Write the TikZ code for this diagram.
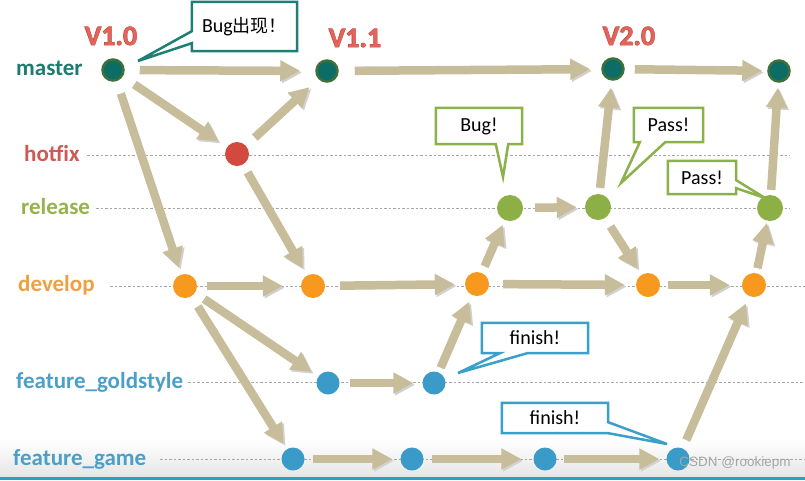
\documentclass[tikz,border=0pt]{standalone}
\usepackage{fontspec}
\setmainfont{Carlito}
\newfontfamily\cjk{Noto Sans CJK SC}
\newfontfamily\wmfont{Liberation Sans}
\newfontfamily\verout[FakeBold=2.5]{Carlito Bold}
\usetikzlibrary{arrows.meta}
\definecolor{arrowtan}{RGB}{199,189,154}
\definecolor{cmaster}{RGB}{12,108,102}
\definecolor{cring}{RGB}{62,112,60}
\definecolor{chot}{RGB}{211,72,63}
\definecolor{crel}{RGB}{141,176,70}
\definecolor{cdev}{RGB}{247,153,30}
\definecolor{cfeat}{RGB}{58,155,201}
\definecolor{lmaster}{RGB}{27,125,114}
\definecolor{lhot}{RGB}{205,90,85}
\definecolor{lrel}{RGB}{150,178,75}
\definecolor{ldev}{RGB}{240,160,64}
\definecolor{lfeat}{RGB}{74,160,200}
\definecolor{cver}{RGB}{226,100,90}
\definecolor{cverout}{RGB}{200,72,64}
\definecolor{cbteal}{RGB}{30,128,117}
\definecolor{cbgreen}{RGB}{140,176,74}
\definecolor{cbblue}{RGB}{58,159,201}
\definecolor{cbar}{RGB}{42,160,208}
\tikzset{
  commit/.style={circle, inner sep=0pt, minimum size=#1},
  mnode/.style={commit=21pt, fill=cmaster, draw=cring, line width=2.5pt},
  hnode/.style={commit=24pt, fill=chot},
  rnode/.style={commit=26pt, fill=crel},
  dnode/.style={commit=24pt, fill=cdev},
  fnode/.style={commit=23pt, fill=cfeat},
  flow/.style={draw=arrowtan, line width=8.5pt, -{Triangle[length=20pt,width=20pt]},
    preaction={draw=black!18, transform canvas={shift={(1.8pt,-1.8pt)}}}},
  lab/.style={anchor=base west, inner sep=0pt, font=\fontsize{23}{25}\selectfont\bfseries},
  verbg/.style={anchor=base west, inner sep=0pt, text=cverout, font=\verout\fontsize{28}{30}\selectfont},
  ver/.style={anchor=base west, inner sep=0pt, text=cver, font=\fontsize{28}{30}\selectfont\bfseries},
  guide/.style={draw=black!35, dash pattern=on 2.5pt off 2pt, line width=0.6pt},
  ctext/.style={inner sep=0pt, font=\fontsize{20}{22}\selectfont},
  cbox/.style={draw=#1, fill=white, line width=2.5pt, line join=miter},
}
\begin{document}
\begin{tikzpicture}[x=1pt,y=-1pt]
\useasboundingbox (0,0) rectangle (805,480);
\fill[white] (0,0) rectangle (805,480);
\shade[top color=white, bottom color=black!10] (0,440) rectangle (805,477);
\fill[cbar] (0,477) rectangle (805,480);

% branch labels
\node[lab, text=lmaster] (Lmaster) at (16,75.5) {master};
\node[lab, text=lhot]    (Lhot)    at (24,161) {hotfix};
\node[lab, text=lrel]    (Lrel)    at (21,214) {release};
\node[lab, text=ldev]    (Ldev)    at (18,291.5) {develop};
\node[lab, text=lfeat]   (Lgold)   at (16,388) {feature\_goldstyle};
\node[lab, text=lfeat]   (Lgame)   at (13,465) {feature\_game};

% guide lines
\coordinate (Ehot)  at (790,155);
\coordinate (Erel)  at (790,208);
\coordinate (Edev)  at (805,286);
\coordinate (Egold) at (805,382);
\coordinate (Egame) at (805,459);
\draw[guide] (87,155) -- (Ehot);
\draw[guide] (96,208) -- (Erel);
\draw[guide] (110,286) -- (Edev);
\draw[guide] (188,382) -- (Egold);
\draw[guide] (160,459) -- (Egame);

% versions
\node[verbg] at (84.5,45) {V1.0};
\node[ver] (V10) at (85,45) {V1.0};
\node[verbg] at (328.5,47) {V1.1};
\node[ver] (V11) at (329,47) {V1.1};
\node[verbg] at (602.5,45) {V2.0};
\node[ver] (V20) at (603,45) {V2.0};

% commits
\node[mnode] (M1) at (113,70) {};
\node[mnode] (M2) at (327,71) {};
\node[mnode] (M3) at (613,69) {};
\node[mnode] (M4) at (779,71) {};
\node[hnode] (H)  at (237,154) {};
\node[rnode] (R1) at (510,208) {};
\node[rnode] (R2) at (598,207) {};
\node[rnode] (R3) at (770,208) {};
\node[dnode] (D1) at (185,286) {};
\node[dnode] (D2) at (313,286) {};
\node[dnode] (D3) at (477,284) {};
\node[dnode] (D4) at (648,285) {};
\node[dnode] (D5) at (754,285) {};
\node[fnode] (G1) at (328,383) {};
\node[fnode] (G2) at (434,383) {};
\node[fnode] (F1) at (293,459) {};
\node[fnode] (F2) at (412,459) {};
\node[fnode] (F3) at (545,459) {};
\node[fnode] (F4) at (678,459) {};

% flows
\draw[flow, shorten <=15pt, shorten >=15pt] (M1) -- (M2);
\draw[flow, shorten <=14pt, shorten >=10pt] (M1) -- (H);
\draw[flow, shorten <=12pt, shorten >=12pt] (H) -- (M2);
\draw[flow, shorten <=13pt, shorten >=7pt] (M1) -- (D1);
\draw[flow, shorten <=9pt, shorten >=8pt] (H) -- (D2);
\draw[flow, shorten <=16pt, shorten >=11pt] (M2) -- (M3);
\draw[flow, shorten <=10pt, shorten >=5pt] (M3) -- (M4);
\draw[flow, shorten <=10pt, shorten >=18pt] (D1) -- (D2);
\draw[flow, shorten <=11pt, shorten >=8pt] (D1) -- (G1);
\draw[flow, shorten <=12pt, shorten >=6pt] (D1) -- (F1);
\draw[flow, shorten <=15pt, shorten >=10pt] (D2) -- (D3);
\draw[flow, shorten <=10pt, shorten >=9pt] (G1) -- (G2);
\draw[flow, shorten <=5pt, shorten >=7pt] (G2) -- (D3);
\draw[flow, shorten <=7pt, shorten >=5pt] (D3) -- (R1);
\draw[flow, shorten <=14pt, shorten >=11pt] (D3) -- (D4);
\draw[flow, shorten <=12pt, shorten >=8pt] (R1) -- (R2);
\draw[flow, shorten <=6pt, shorten >=7pt] (R2) -- (M3);
\draw[flow, shorten <=10pt, shorten >=7pt] (R2) -- (D4);
\draw[flow, shorten <=8pt, shorten >=12pt] (D4) -- (D5);
\draw[flow, shorten <=5pt, shorten >=2pt] (D5) -- (R3);
\draw[flow, shorten <=5pt, shorten >=5pt] (R3) -- (M4);
\draw[flow, shorten <=8pt, shorten >=8pt] (F1) -- (F2);
\draw[flow, shorten <=8pt, shorten >=12pt] (F2) -- (F3);
\draw[flow, shorten <=7pt, shorten >=7pt] (F3) -- (F4);
\draw[flow, shorten <=9pt, shorten >=8pt] (F4) -- (D5);

% callouts
\node[ctext, minimum width=105pt, minimum height=49pt] (C1) at (244.5,26.5) {};
\coordinate (T1) at (138,61);
\draw[cbox=cbteal] (C1.north west) -- (C1.north east) -- (C1.south east) -- (C1.south west)
  -- ([yshift=8pt]C1.south west) -- (T1) -- ([yshift=20pt]C1.south west) -- cycle;
\node[ctext] at (C1) {Bug{\cjk\fontsize{18}{20}\selectfont 出现！}};

\node[ctext, minimum width=86pt, minimum height=36pt] (C2) at (479,126) {};
\coordinate (T2) at (503,177);
\draw[cbox=cbgreen] (C2.north west) -- (C2.north east) -- (C2.south east)
  -- ([xshift=-14pt]C2.south east) -- (T2) -- ([xshift=60pt]C2.south west) -- (C2.south west) -- cycle;
\node[ctext] at (C2) {Bug!};

\node[ctext, minimum width=69pt, minimum height=34pt] (C3) at (668.5,125) {};
\coordinate (T3) at (621,183);
\draw[cbox=cbgreen] (C3.north west) -- (C3.north east) -- (C3.south east)
  -- ([xshift=-38pt]C3.south east) -- (T3) -- ([xshift=6pt]C3.south west) -- (C3.south west) -- cycle;
\node[ctext] at (C3) {Pass!};

\node[ctext, minimum width=68pt, minimum height=33pt] (C4) at (702,177.5) {};
\coordinate (T4) at (765,198);
\draw[cbox=cbgreen] (C4.north west) -- (C4.north east) -- ([yshift=14pt]C4.south east)
  -- (T4) -- ([yshift=6pt]C4.south east) -- (C4.south east) -- (C4.south west) -- cycle;
\node[ctext] at (C4) {Pass!};

\node[ctext, minimum width=106pt, minimum height=30pt] (C5) at (535,338) {};
\coordinate (T5) at (458,373);
\draw[cbox=cbblue] (C5.north west) -- (C5.north east) -- (C5.south east)
  -- ([xshift=-61pt]C5.south east) -- (T5) -- ([xshift=18pt]C5.south west) -- (C5.south west) -- cycle;
\node[ctext] at (C5) {finish!};

\node[ctext, minimum width=106pt, minimum height=30pt] (C6) at (555,418) {};
\coordinate (T6) at (667,444);
\draw[cbox=cbblue] (C6.north west) -- (C6.north east) -- ([yshift=11pt]C6.south east)
  -- (T6) -- (C6.south east) -- (C6.south west) -- cycle;
\node[ctext] at (C6) {finish!};

% watermark
\node[inner sep=0pt, text=black!35, font=\wmfont\fontsize{13.5}{15}\selectfont] (WM) at (735,463) {CSDN @rookiepm};
\end{tikzpicture}
\end{document}
